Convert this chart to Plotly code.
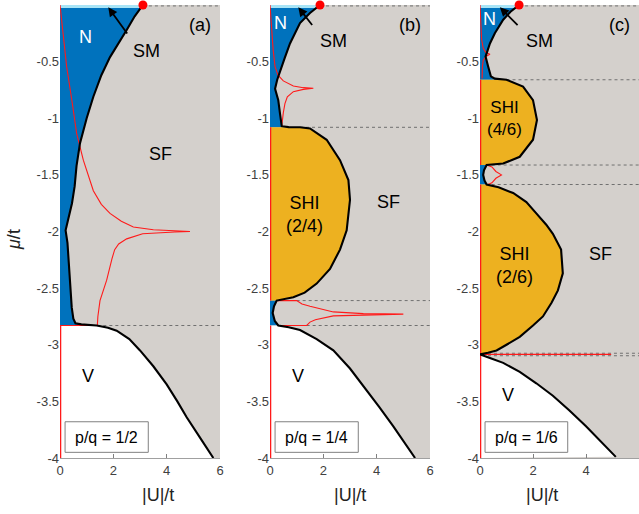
import plotly.graph_objects as go

# ---------------- data ----------------
U_TICKS = [0, 2, 4, 6]
MU_TICKS = [0, -0.5, -1, -1.5, -2, -2.5, -3, -3.5, -4]
MU_TICK_LABELS = ["0", "-0.5", "-1", "-1.5", "-2", "-2.5", "-3", "-3.5", "-4"]
panel_tags = ["(a)", "(b)", "(c)"]
panel_pq = ["p/q = 1/2", "p/q = 1/4", "p/q = 1/6"]

# ---- panel (a), p/q = 1/2 ----
a_crit_U = 3.11
a_nsf_U = [3.11, 2.8, 2.5, 2.2, 1.875, 1.55, 1.25, 1.0, 0.75, 0.62, 0.55, 0.45, 0.31, 0.21, 0.28, 0.33, 0.38, 0.44, 0.5, 0.58, 0.8, 1.1, 1.375]
a_nsf_mu = [0, -0.1, -0.22, -0.34, -0.46, -0.62, -0.81, -1.0, -1.22, -1.42, -1.6, -1.75, -1.9, -1.99, -2.1, -2.3, -2.5, -2.67, -2.77, -2.81, -2.82, -2.825, -2.83]
a_v_U = [1.375, 1.8, 2.125, 2.6, 3.0, 3.5, 4.0, 4.4, 4.75, 5.25, 5.75]
a_v_mu = [-2.83, -2.85, -2.876, -2.95, -3.05, -3.19, -3.35, -3.5, -3.64, -3.82, -4.0]
a_red_U = [0, 0.1, 0.25, 0.45, 0.625, 0.875, 1.25, 1.55, 1.875, 2.3, 2.75, 3.5, 4.3, 4.875,
           4.3, 3.8, 3.1, 2.5, 2.2, 2.05, 1.95, 1.75, 1.5, 1.42, 1.4, 0]
a_red_mu = [0, -0.2, -0.545, -0.85, -1.135, -1.37, -1.64, -1.76, -1.84, -1.91, -1.96, -1.985, -1.995, -2.0,
            -2.005, -2.01, -2.02, -2.065, -2.11, -2.16, -2.24, -2.43, -2.61, -2.75, -2.83, -2.83]
a_edge_mu = [-2.83, -4]
a_dot_mu = [0, -2.83]
a_dot_from = [3.11, 1.4]

# ---- panel (b), p/q = 1/4 ----
b_crit_U = 1.875
b_nsf_U = [1.875, 1.5, 1.125, 0.75, 0.55, 0.44, 0.27, 0.19, 0.31, 0.375, 0.44, 0.7, 1.125]
b_nsf_mu = [0, -0.07, -0.16, -0.34, -0.47, -0.545, -0.66, -0.74, -0.84, -0.96, -1.07, -1.078, -1.08]
b_shi_U = [1.125, 1.5, 2.125, 2.625, 2.94, 3.0, 2.875, 2.625, 2.25, 1.75, 1.3, 0.875, 0.5, 0.25]
b_shi_mu = [-1.08, -1.09, -1.19, -1.37, -1.545, -1.72, -1.99, -2.16, -2.33, -2.46, -2.54, -2.58, -2.6, -2.61]
b_gap_U = [0.25, 0.15, 0.1, 0.18, 0.31]
b_gap_mu = [-2.61, -2.66, -2.72, -2.79, -2.83]
b_v_U = [0.31, 0.7, 1.125, 1.75, 2.375, 3.0, 3.625, 4.1, 4.625, 5.0, 5.44]
b_v_mu = [-2.83, -2.845, -2.87, -2.95, -3.05, -3.21, -3.4, -3.55, -3.72, -3.85, -4.0]
b_red1_U = [0, 0.05, 0.12, 0.19, 0.3, 0.5, 0.875, 1.25, 1.625, 1.25, 0.875, 0.65, 0.56, 0.5, 0.44]
b_red1_mu = [0, -0.2, -0.4, -0.545, -0.62, -0.67, -0.715, -0.73, -0.735, -0.745, -0.765, -0.81, -0.87, -0.95, -1.07]
b_red2_U = [0.25, 1.0, 1.2, 1.5, 2.375, 3.5, 5.0, 3.5, 2.375, 1.7, 1.5, 1.375, 0.31]
b_red2_mu = [-2.61, -2.61, -2.64, -2.66, -2.71, -2.725, -2.73, -2.735, -2.745, -2.78, -2.80, -2.83, -2.83]
b_edge_mu = [-1.08, -2.61, None, -2.83, -4]
b_dot_mu = [0, -1.08, -2.61, -2.83]
b_dot_from = [1.875, 1.125, 1.0, 1.375]

# ---- panel (c), p/q = 1/6 ----
c_crit_U = 1.475
c_nsf_U = [1.475, 1.15, 0.875, 0.56, 0.375, 0.25, 0.21, 0.31, 0.41, 0.56, 1.0]
c_nsf_mu = [0, -0.06, -0.13, -0.25, -0.34, -0.43, -0.456, -0.545, -0.63, -0.65, -0.66]
c_shi1_U = [1.0, 1.625, 2.0, 2.15, 2.0, 1.5, 0.875, 0.25]
c_shi1_mu = [-0.66, -0.72, -0.84, -1.015, -1.19, -1.34, -1.40, -1.413]
c_gap_U = [0.25, 0.15, 0.12, 0.17, 0.25]
c_gap_mu = [-1.413, -1.46, -1.5, -1.55, -1.585]
c_shi2_U = [0.25, 0.7, 1.25, 1.75, 2.125, 2.5, 2.75, 3.06, 3.125, 2.94, 2.7, 2.375, 2.0, 1.5, 1.0, 0.625, 0.3, 0]
c_shi2_mu = [-1.585, -1.61, -1.66, -1.74, -1.84, -1.94, -2.02, -2.16, -2.37, -2.52, -2.63, -2.75, -2.83, -2.93, -3.0, -3.05, -3.07, -3.085]
c_v_U = [0, 0.4, 0.875, 1.5, 2.125, 2.75, 3.375, 4.0, 4.6, 5.125]
c_v_mu = [-3.085, -3.12, -3.16, -3.24, -3.34, -3.45, -3.58, -3.72, -3.86, -3.99]
c_red1_U = [0, 0.04, 0.06, 0.12, 0.22, 0.375, 0.22, 0.12, 0.09, 0.08]
c_red1_mu = [0, -0.15, -0.3, -0.38, -0.42, -0.435, -0.455, -0.49, -0.55, -0.65]
c_red2_U = [0.25, 0.45, 0.6, 0.81, 0.6, 0.45, 0.3]
c_red2_mu = [-1.413, -1.43, -1.47, -1.50, -1.53, -1.57, -1.585]
c_red3_U = [0, 4.95]
c_red3_mu = [-3.085, -3.085]
c_edge_mu = [-0.66, -1.413, None, -1.585, -4]
c_dot_mu = [0, -0.66, -1.413, -1.585, -3.075, -3.097]
c_dot_from = [1.475, 1.0, 0.44, 0.44, 0.3, 0.3]

# ---------------- styling ----------------
SF_GREY = "#d4d0cc"
N_BLUE = "#0072bd"
SHI_ORANGE = "#edb120"
SM_CYAN = "#a8e4f6"
RED = "#ff1a1a"
FONT = "Arial"

W, H = 639, 514
ML, MR, MT, MB = 60, 0, 5, 56
pw = W - ML - MR
domains = [[0, 160 / pw], [210 / pw, 370 / pw], [420 / pw, 1.0]]

fig = go.Figure()


def ax(i):
    return ("x" if i == 0 else f"x{i+1}"), ("y" if i == 0 else f"y{i+1}")


def poly(i, xs, ys, color):
    xa, ya = ax(i)
    fig.add_trace(go.Scatter(x=xs, y=ys, mode="lines", fill="toself", fillcolor=color,
                             line=dict(width=0, color=color), xaxis=xa, yaxis=ya,
                             hoverinfo="skip", showlegend=False))


def line(i, xs, ys, color, width, dash=None):
    xa, ya = ax(i)
    fig.add_trace(go.Scatter(x=xs, y=ys, mode="lines",
                             line=dict(width=width, color=color, dash=dash),
                             xaxis=xa, yaxis=ya, hoverinfo="skip", showlegend=False))


panels = [
    dict(crit=a_crit_U,
         blue=[(a_nsf_U, a_nsf_mu, -2.83)],
         orange=[],
         black=[(a_nsf_U, a_nsf_mu), (a_v_U, a_v_mu)],
         v=(a_v_U, a_v_mu),
         red=[(a_red_U, a_red_mu)],
         edge=a_edge_mu, dots=(a_dot_mu, a_dot_from)),
    dict(crit=b_crit_U,
         blue=[(b_nsf_U, b_nsf_mu, -1.08), (b_gap_U, b_gap_mu, None)],
         orange=[(b_shi_U, b_shi_mu)],
         black=[(b_nsf_U, b_nsf_mu), (b_shi_U, b_shi_mu), (b_gap_U, b_gap_mu), (b_v_U, b_v_mu)],
         v=(b_v_U, b_v_mu),
         red=[(b_red1_U, b_red1_mu), (b_red2_U, b_red2_mu)],
         edge=b_edge_mu, dots=(b_dot_mu, b_dot_from)),
    dict(crit=c_crit_U,
         blue=[(c_nsf_U, c_nsf_mu, -0.66), (c_gap_U, c_gap_mu, None)],
         orange=[(c_shi1_U, c_shi1_mu), (c_shi2_U, c_shi2_mu)],
         black=[(c_nsf_U, c_nsf_mu), (c_shi1_U, c_shi1_mu), (c_gap_U, c_gap_mu),
                (c_shi2_U, c_shi2_mu), (c_v_U, c_v_mu)],
         v=(c_v_U, c_v_mu),
         red=[(c_red1_U, c_red1_mu), (c_red2_U, c_red2_mu), (c_red3_U, c_red3_mu)],
         edge=c_edge_mu, dots=(c_dot_mu, c_dot_from)),
]

for i, p in enumerate(panels):
    for us, mus, bottom in p["blue"]:
        bot = bottom if bottom is not None else mus[-1]
        poly(i, [0] + list(us) + [0], [mus[0]] + list(mus) + [bot], N_BLUE)
    for us, mus in p["orange"]:
        poly(i, [0] + list(us) + [0], [mus[0]] + list(mus) + [mus[-1]], SHI_ORANGE)
    vu, vm = p["v"]
    poly(i, [0] + list(vu) + [0], [vm[0]] + list(vm) + [-4], "white")
    dm, df = p["dots"]
    for m, u0 in zip(dm, df):
        yy = m if m != 0 else -0.008
        line(i, [u0, 6], [yy, yy], "#707070", 1, "dot")
    line(i, [0, p["crit"]], [-0.012, -0.012], SM_CYAN, 3.5)
    for us, mus in p["red"]:
        line(i, us, mus, RED, 1.1)
    line(i, [0.01 if m is not None else None for m in p["edge"]], p["edge"], RED, 2)
    bx, by = [], []
    for us, mus in p["black"]:
        bx += list(us)
        by += list(mus)
    line(i, bx, by, "black", 2.1)
    xa, ya = ax(i)
    fig.add_trace(go.Scatter(x=[p["crit"]], y=[0], mode="markers",
                             marker=dict(size=9, color="#ff0000"), cliponaxis=False,
                             xaxis=xa, yaxis=ya, hoverinfo="skip", showlegend=False))


def label(i, x, y, text, color="black", size=18):
    xa, ya = ax(i)
    fig.add_annotation(x=x, y=y, xref=xa, yref=ya, text=text, showarrow=False,
                       font=dict(family=FONT, size=size, color=color))


def arrow(i, tail, head):
    xa, ya = ax(i)
    fig.add_annotation(x=head[0], y=head[1], ax=tail[0], ay=tail[1], xref=xa, yref=ya,
                       axref=xa, ayref=ya, text="", showarrow=True, arrowhead=2,
                       arrowsize=1, arrowwidth=1.8, arrowcolor="black")


# (a)
label(0, 0.94, -0.28, "N", "white")
label(0, 3.25, -0.41, "SM")
arrow(0, (2.56, -0.265), (1.81, -0.02))
label(0, 3.75, -1.32, "SF")
label(0, 1.06, -3.28, "V")
# (b)
label(1, 0.4, -0.16, "N", "white")
label(1, 2.375, -0.32, "SM")
arrow(1, (1.625, -0.19), (1.06, -0.02))
label(1, 4.44, -1.74, "SF")
label(1, 1.31, -1.85, "SHI<br>(2/4)")
label(1, 1.06, -3.28, "V")
# (c)
label(2, 0.37, -0.12, "N", "white")
label(2, 2.25, -0.32, "SM")
arrow(2, (1.475, -0.19), (0.75, -0.02))
label(2, 0.94, -1.0, "SHI<br>(4/6)", size=17)
label(2, 1.31, -2.3, "SHI<br>(2/6)")
label(2, 4.56, -2.2, "SF")
label(2, 1.06, -3.44, "V")

for i in range(3):
    label(i, 5.25, -0.18, panel_tags[i])
    xa, ya = ax(i)
    fig.add_shape(type="rect", xref=xa, yref=ya, x0=0.19, x1=3.31, y0=-3.95, y1=-3.68,
                  line=dict(color="#808080", width=1), fillcolor="white")
    label(i, 1.75, -3.815, panel_pq[i], size=16)
    fig.add_annotation(x=sum(domains[i]) / 2, y=0, xref="paper", yref="paper",
                       text="|U|/t", showarrow=False, yanchor="middle", yshift=-37,
                       font=dict(family=FONT, size=18, color="#222"))

fig.add_annotation(x=0, y=(458 - 240) / 453, xref="paper", yref="paper", text="<i>μ</i>/t",
                   showarrow=False, textangle=-90, xshift=-46, xanchor="center",
                   yanchor="middle", font=dict(family=FONT, size=18, color="#222"))

layout = dict(width=W, height=H, margin=dict(l=ML, r=MR, t=MT, b=MB, autoexpand=False),
              plot_bgcolor=SF_GREY, paper_bgcolor="white", showlegend=False,
              font=dict(family=FONT, size=13, color="#404040"))
for i in range(3):
    xk = "xaxis" if i == 0 else f"xaxis{i+1}"
    yk = "yaxis" if i == 0 else f"yaxis{i+1}"
    xa, ya = ax(i)
    layout[xk] = dict(domain=domains[i], range=[0, 6], anchor=ya, tickvals=U_TICKS,
                      ticks="inside", ticklen=4, tickcolor="#808080", showgrid=False,
                      zeroline=False, showline=True, linecolor="#a0a0a0", linewidth=1,
                      fixedrange=True, automargin=False)
    layout[yk] = dict(domain=[0, 1], range=[-4, 0], anchor=xa, tickvals=MU_TICKS,
                      ticktext=MU_TICK_LABELS, ticks="", showgrid=False, zeroline=False,
                      showline=False, fixedrange=True, automargin=False)
fig.update_layout(**layout)

fig.write_html("out.html", config={"displayModeBar": False, "staticPlot": True},
               post_script="document.body.style.margin='0px';")
